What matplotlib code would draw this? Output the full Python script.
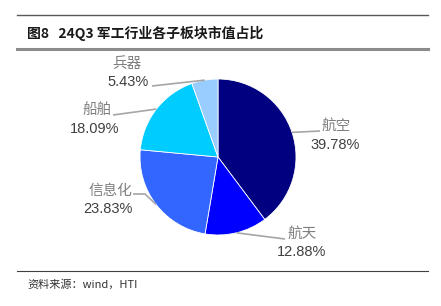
import numpy as np
import matplotlib
matplotlib.use("Agg")
import matplotlib.pyplot as plt
from matplotlib.lines import Line2D

plt.rcParams['font.family'] = ['Noto Sans CJK SC', 'DejaVu Sans']

categories = ['航空', '航天', '信息化', '船舶', '兵器']
values = [39.78, 12.88, 23.83, 18.09, 5.43]
pct_labels = ['39.78%', '12.88%', '23.83%', '18.09%', '5.43%']
colors = ['#000080', '#0000FF', '#3366FF', '#00CCFF', '#99CCFF']

W, H = 441, 306
fig = plt.figure(figsize=(W / 100, H / 100), dpi=100)

cx, cy, r = 218, 157, 78
ax = fig.add_axes([(cx - r) / W, (H - cy - r) / H, 2 * r / W, 2 * r / H])
ax.axis('off')

wedges, _ = ax.pie(values, colors=colors, startangle=90, counterclock=False,
                   radius=1, wedgeprops=dict(linewidth=0.6, edgecolor='white'))
ax.set_xlim(-1, 1)
ax.set_ylim(-1, 1)

def px2d(x, y):
    return (x - cx) / r, (cy - y) / r

# label placements (pixels): line end points, name centre, pct centre
line_ends = [[(320, 131)], [(285, 239)], [(145, 194), (133, 194)], [(113, 115)], [(152, 86)]]
name_pos = [(336, 126), (302, 234), (110, 191), (97, 111), (127, 64)]
pct_pos = [(335, 145), (302, 252), (108, 209), (95, 129), (128, 82)]

for w, ends, npos, ppos, name, pl in zip(wedges, line_ends, name_pos, pct_pos, categories, pct_labels):
    ang = np.deg2rad((w.theta1 + w.theta2) / 2)
    pts = [(np.cos(ang), np.sin(ang))] + [px2d(*e) for e in ends]
    xs, ys = zip(*pts)
    ax.plot(xs, ys, color='#A6A6A6', lw=1.2, clip_on=False, solid_capstyle='butt')
    nx, ny = px2d(*npos)
    ax.text(nx, ny, name, ha='center', va='center', fontsize=10.5, color='#7F7F7F', clip_on=False)
    qx, qy = px2d(*ppos)
    ax.text(qx, qy, pl, ha='center', va='center', fontsize=10.5, color='#404040',
            family=['Liberation Sans', 'DejaVu Sans'], clip_on=False)

# header / footer decorations
fig.add_artist(Line2D([17 / W, 428 / W], [1 - 15 / H, 1 - 15 / H], color='#595959', lw=1.0))
fig.add_artist(Line2D([17 / W, 428 / W], [1 - 48.5 / H, 1 - 48.5 / H], color='#8C8C8C', lw=2.2))
fig.add_artist(Line2D([17 / W, 428 / W], [1 - 271 / H, 1 - 271 / H], color='#404040', lw=0.8))

fig.text(27 / W, 1 - 33 / H, '图8   24Q3 军工行业各子板块市值占比', ha='left', va='center',
         fontsize=10, fontweight='bold', color='#1a1a1a')
fig.text(27 / W, 1 - 284 / H, '资料来源：wind，HTI', ha='left', va='center',
         fontsize=8, color='#333333')

fig.savefig('out.png', dpi=100)
